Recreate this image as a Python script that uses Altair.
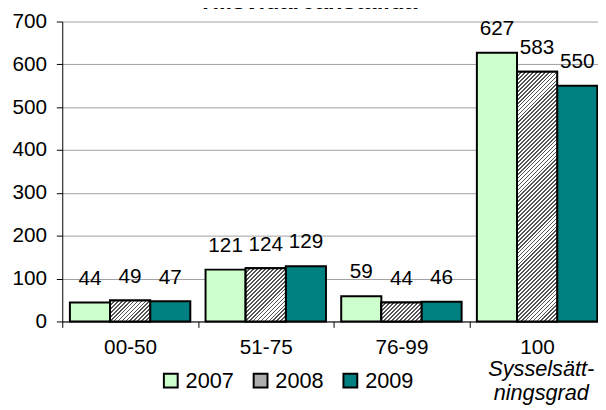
import altair as alt
import pandas as pd

categories = ["00-50", "51-75", "76-99", "100"]
years = ["2007", "2008", "2009"]
v2007 = [44, 121, 59, 627]
v2008 = [49, 124, 44, 583]
v2009 = [47, 129, 46, 550]
y_ticks = [0, 100, 200, 300, 400, 500, 600, 700]
colors = ["#CCFFCC", "#ADADAD", "#008080"]
title_text = "Tillsvidareanställda"
x_title = ["Sysselsätt-", "ningsgrad"]

rows = []
for i, c in enumerate(categories):
    for yr, vals in zip(years, [v2007, v2008, v2009]):
        rows.append({"kat": c, "ar": yr, "antal": vals[i]})
df = pd.DataFrame(rows)

W, H = 550, 304
YMAX = 700
OUTER = 0.19
BAR_W = W / len(categories) / (3 + 2 * OUTER)
FONT = "Liberation Sans"
FS = 21


def hatch(w, h, pitch=4.0, frac=0.45, dark="#555555", light="#ffffff"):
    L = w + h
    stops = []
    k = 0
    while k * pitch < L:
        t0 = k * pitch / L
        tm = min(1.0, (k + frac) * pitch / L)
        t1 = min(1.0, (k + 1) * pitch / L)
        stops += [
            {"offset": t0, "color": dark},
            {"offset": tm, "color": dark},
            {"offset": tm, "color": light},
            {"offset": t1, "color": light},
        ]
        k += 1
    a = w * (w + h) / (w * w + h * h)
    return {"gradient": "linear", "x1": 0, "y1": 0, "x2": a, "y2": a * h / w, "stops": stops}


x_enc = alt.X(
    "kat:N",
    scale=alt.Scale(domain=categories, paddingInner=0, paddingOuter=0),
    sort=categories,
    axis=alt.Axis(
        title=x_title,
        titleFont=FONT,
        titleFontSize=22,
        titleFontStyle="italic",
        titleFontWeight="normal",
        titleColor="black",
        titleX=485,
        titleY=55,
        titleAlign="center",
        titleBaseline="alphabetic",
        titleLineHeight=24,
        titleAngle=0,
        labelAngle=0,
        labelFont=FONT,
        labelFontSize=FS,
        labelColor="black",
        labelPadding=9,
        tickBand="extent",
        tickSize=6,
        tickColor="black",
        domainColor="black",
        grid=False,
    ),
)
xo_enc = alt.XOffset("ar:N", scale=alt.Scale(domain=years, paddingInner=0, paddingOuter=OUTER))
y_enc = alt.Y(
    "antal:Q",
    scale=alt.Scale(domain=[0, YMAX], nice=False),
    axis=alt.Axis(
        title=None,
        values=y_ticks,
        labelFont=FONT,
        labelFontSize=FS,
        labelColor="black",
        labelPadding=10,
        tickSize=6,
        tickColor="black",
        domainColor="black",
        gridColor="#a0a0a0",
        gridWidth=1,
    ),
)

color_enc = alt.Color(
    "ar:N",
    scale=alt.Scale(domain=years, range=colors),
    legend=alt.Legend(
        title=None,
        orient="none",
        direction="horizontal",
        legendX=99,
        legendY=353,
        symbolType="square",
        symbolSize=196,
        symbolStrokeColor="black",
        symbolStrokeWidth=2,
        symbolOpacity=1,
        labelFont=FONT,
        labelFontSize=22,
        labelColor="black",
        labelOffset=4,
        columnPadding=16,
        padding=0,
    ),
)

base = alt.Chart(df).encode(x=x_enc, xOffset=xo_enc, y=y_enc)

bars = base.mark_bar(stroke="black", strokeWidth=2, opacity=1).encode(color=color_enc)

layers = [bars]
for c, v in zip(categories, v2008):
    h = v * H / YMAX
    layers.append(
        base.transform_filter(
            (alt.datum.kat == c) & (alt.datum.ar == "2008")
        ).mark_bar(stroke="black", strokeWidth=2, fill=hatch(BAR_W, h))
    )

labels = base.mark_text(
    baseline="alphabetic", dy=-18, font=FONT, fontSize=FS, color="black"
).encode(text="antal:Q")
layers.append(labels)

title_mark = (
    alt.Chart(pd.DataFrame({"t": [title_text]}))
    .mark_text(
        font=FONT, fontSize=24, fontWeight="bold", color="black",
        align="center", baseline="alphabetic",
    )
    .encode(text="t:N", x=alt.value(W / 2 - 26), y=alt.value(-13))
)
layers.append(title_mark)

chart = (
    alt.layer(*layers)
    .properties(
        width=W,
        height=H,
        autosize=alt.AutoSizeParams(type="none"),
        padding={"left": 55, "top": 11, "right": -7, "bottom": 85},
    )
    .configure_view(stroke=None)
)

chart.save("out.html", embed_options={"renderer": "svg", "actions": False})
